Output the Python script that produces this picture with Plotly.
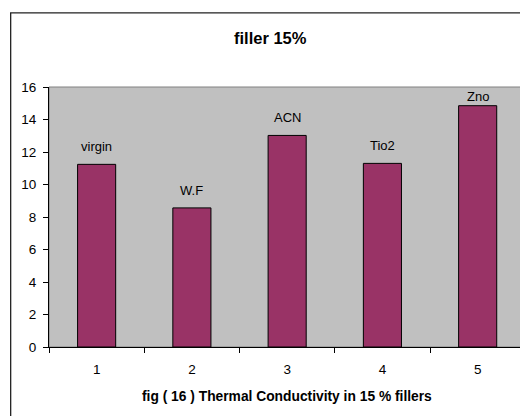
import plotly.graph_objects as go

categories = [1, 2, 3, 4, 5]
values = [11.24, 8.56, 13.02, 11.3, 14.85]
labels = ["virgin", "W.F", "ACN", "Tio2", "Zno"]
label_shift = [8, 8, 8, 8, 0]
y_ticks = [0, 2, 4, 6, 8, 10, 12, 14, 16]

W, H = 520, 416
L, T, B = 49.3, 87, 69.3
R = 0
pw = W - L - R
ph = H - T - B
cat_w = 95.2
x_hi = 0.5 + pw / cat_w

def px_x(p):
    return (p - L) / pw

def px_y(p):
    return (H - B - p) / ph

fig = go.Figure()
fig.add_trace(go.Bar(
    x=categories, y=values, width=0.4,
    marker=dict(color="#993366", line=dict(color="#000000", width=1)),
    hoverinfo="skip",
))

font = dict(family="Liberation Sans, Arial, sans-serif", color="#000000")

annotations = []
for c, v, t, s in zip(categories, values, labels, label_shift):
    annotations.append(dict(x=c, y=v, xref="x", yref="y", text=t, showarrow=False,
                            yanchor="bottom", yshift=s, font=dict(size=13, **font)))
annotations.append(dict(x=px_x(287), y=px_y(396), xref="paper", yref="paper",
                        text="<b>fig ( 16 ) Thermal Conductivity in 15 % fillers</b>",
                        showarrow=False, xanchor="center", yanchor="middle",
                        font=dict(size=13.8, **font)))
annotations.append(dict(x=px_x(271), y=px_y(38), xref="paper", yref="paper",
                        text="<b>filler 15%</b>", showarrow=False,
                        xanchor="center", yanchor="middle", font=dict(size=16.5, **font)))

shapes = [
    dict(type="rect", xref="paper", yref="paper", x0=0, x1=1.05, y0=0, y1=1,
         line=dict(color="#808080", width=1), layer="below"),
    dict(type="rect", xref="paper", yref="paper",
         x0=px_x(11), x1=px_x(540), y0=px_y(440), y1=px_y(13),
         line=dict(color="#222222", width=1.3)),
]

fig.update_layout(
    width=W, height=H,
    margin=dict(l=L, r=R, t=T, b=B, pad=0),
    paper_bgcolor="#FFFFFF", plot_bgcolor="#C0C0C0",
    showlegend=False, bargap=0,
    font=dict(size=13, **font),
    annotations=annotations, shapes=shapes,
    xaxis=dict(range=[0.5, x_hi], tickvals=categories, ticktext=[str(c) for c in categories],
               ticks="", showgrid=False, zeroline=False,
               showline=True, linecolor="#000000", linewidth=1,
               ticklabelstandoff=10,
               minor=dict(tickvals=[0.5, 1.5, 2.5, 3.5, 4.5], ticks="outside",
                          ticklen=5, tickcolor="#000000", showgrid=False),
               tickfont=dict(size=13.5, **font), fixedrange=True),
    yaxis=dict(range=[0, 16], tickvals=y_ticks, ticks="outside", ticklen=5,
               tickcolor="#000000", showgrid=False, zeroline=False,
               showline=True, linecolor="#000000", linewidth=1,
               ticklabelstandoff=4,
               tickfont=dict(size=13.5, **font), fixedrange=True),
)

fig.write_html(
    "out.html",
    config={"displayModeBar": False, "staticPlot": True},
    post_script="document.body.style.margin='0';document.body.style.overflow='hidden';",
)
